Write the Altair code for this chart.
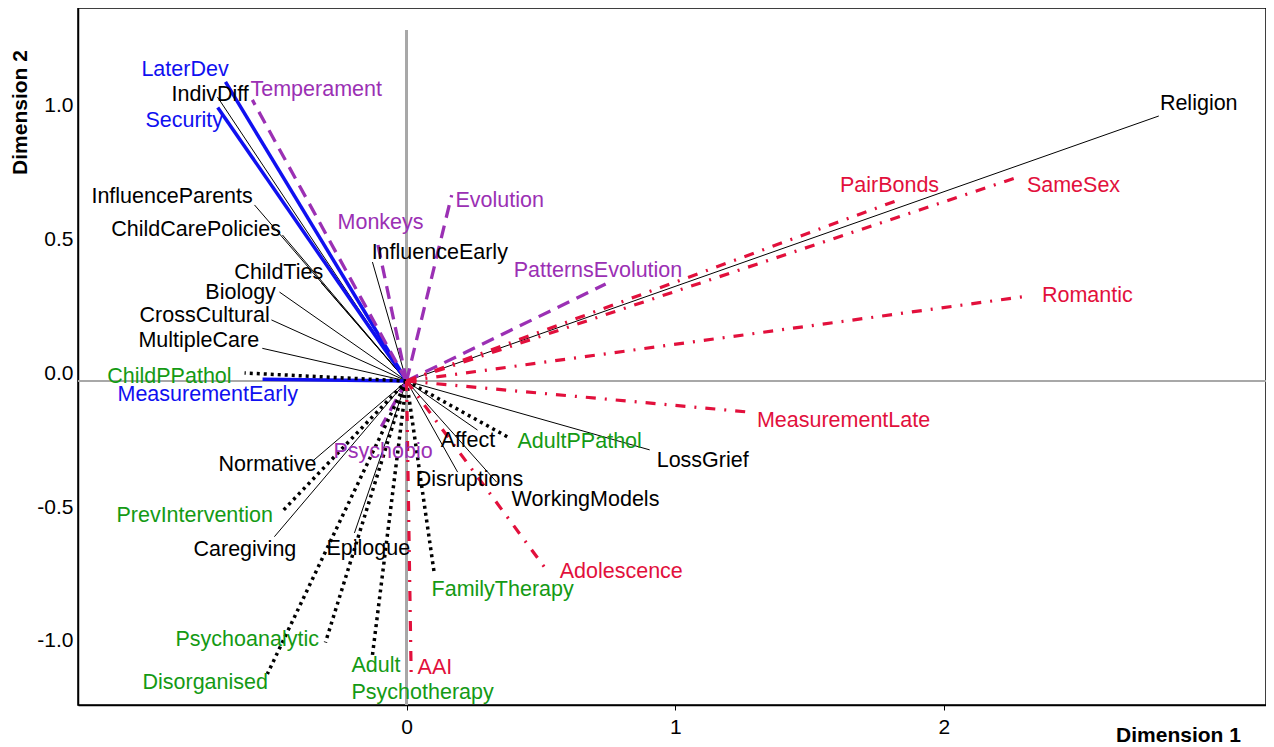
import altair as alt
import pandas as pd

# ---- data ----
names = [
    "LaterDev", "Security", "MeasurementEarly",
    "IndivDiff", "InfluenceParents", "ChildCarePolicies", "ChildTies", "Biology",
    "CrossCultural", "MultipleCare", "Normative", "Caregiving", "Epilogue",
    "Affect", "Disruptions", "WorkingModels", "LossGrief", "Religion", "InfluenceEarly",
    "Temperament", "Monkeys", "Evolution", "PatternsEvolution", "Psychobio",
    "ChildPPathol", "PrevIntervention", "Disorganised", "Psychoanalytic",
    "Adult\nPsychotherapy", "FamilyTherapy", "AdultPPathol",
    "PairBonds", "SameSex", "Romantic", "MeasurementLate", "Adolescence", "AAI",
]
dim1 = [
    -0.674, -0.703, -0.536,
    -0.704, -0.566, -0.462, -0.317, -0.473,
    -0.503, -0.537, -0.350, -0.492, -0.194,
    0.264, 0.190, 0.335, 0.905, 2.800, -0.127,
    -0.574, -0.108, 0.168, 0.741, -0.094,
    -0.603, -0.467, -0.518, -0.302,
    -0.128, 0.104, 0.384,
    1.829, 2.276, 2.320, 1.265, 0.526, 0.017,
]
dim2 = [
    1.116, 1.021, 0.007,
    1.060, 0.657, 0.545, 0.366, 0.332,
    0.228, 0.122, -0.299, -0.581, -0.567,
    -0.183, -0.340, -0.377, -0.257, 0.989, 0.444,
    1.049, 0.515, 0.694, 0.362, -0.170,
    0.030, -0.491, -1.093, -0.976,
    -1.031, -0.724, -0.213,
    0.675, 0.761, 0.318, -0.115, -0.712, -1.090,
]
groups = (
    ["Measurement"] * 3
    + ["General"] * 16
    + ["Biological"] * 5
    + ["Clinical"] * 7
    + ["LaterLife"] * 6
)
# where each label sits (left edge, vertical middle of first line), in data units
label_dim1 = [
    -0.987, -0.972, -1.076,
    -0.875, -1.173, -1.099, -0.641, -0.749,
    -0.994, -0.998, -0.700, -0.793, -0.298,
    0.127, 0.034, 0.391, 0.931, 2.804, -0.130,
    -0.581, -0.257, 0.182, 0.399, -0.272,
    -1.114, -1.080, -0.983, -0.860,
    -0.205, 0.093, 0.413,
    1.613, 2.309, 2.365, 1.304, 0.570, 0.041,
]
label_dim2 = [
    1.160, 0.970, -0.052,
    1.067, 0.687, 0.563, 0.403, 0.328,
    0.243, 0.149, -0.313, -0.631, -0.627,
    -0.224, -0.369, -0.444, -0.299, 1.034, 0.478,
    1.086, 0.590, 0.672, 0.410, -0.265,
    0.015, -0.504, -1.127, -0.966,
    -1.063, -0.780, -0.228,
    0.728, 0.728, 0.317, -0.149, -0.713, -1.071,
]

x_domain = [-1.223, 3.199]
y_domain = [-1.209, 1.392]
ref_top = 1.31

df = pd.DataFrame({
    "name": names, "d1": dim1, "d2": dim2, "group": groups,
    "lx": label_dim1, "ly": label_dim2,
})
df["o1"] = 0.0
df["o2"] = 0.0

FONT = "Liberation Sans"
BLUE = "#1010F0"
PURPLE = "#9B30B4"
GREEN = "#149A14"
RED = "#E2103C"

xs = alt.Scale(domain=x_domain, nice=False, zero=False)
ys = alt.Scale(domain=y_domain, nice=False, zero=False)

x_axis = alt.Axis(
    values=[0, 1, 2], format="d", tickSize=5, labelPadding=6,
    title="Dimension 1", titleX=1100, titleY=30,
    titleAlign="center", titleBaseline="middle",
)
y_axis = alt.Axis(
    values=[-1, -0.5, 0, 0.5, 1],
    labelExpr="replace(format(datum.value, '.1f'), '\u2212', '-')",
    ticks=False, tickSize=0, labelPadding=5, labelOffset=-8,
    title="Dimension 2", titleX=-58, titleY=104, titleAngle=270,
    titleAlign="center", titleBaseline="middle",
)

base = alt.Chart(df)

hline = base.mark_rule(color="#A8A8A8", strokeWidth=1.5).encode(
    y=alt.YDatum(0, scale=ys, axis=y_axis)
)
vline = base.mark_rule(color="#A8A8A8", strokeWidth=1.5).encode(
    x=alt.XDatum(0, scale=xs, axis=x_axis),
    y=alt.YDatum(ref_top, scale=ys, axis=y_axis),
    y2=alt.Y2Datum(y_domain[0]),
)


def vectors(group, **style):
    return base.transform_filter(alt.datum.group == group).mark_rule(**style).encode(
        x=alt.X("o1:Q", scale=xs, axis=x_axis),
        y=alt.Y("o2:Q", scale=ys, axis=y_axis),
        x2="d1:Q",
        y2="d2:Q",
    )


thin = vectors("General", color="black", strokeWidth=1)
blue = vectors("Measurement", color=BLUE, strokeWidth=3.5)
dashed = vectors("Biological", color=PURPLE, strokeWidth=3.3, strokeDash=[13, 8])
dotted = vectors("Clinical", color="black", strokeWidth=3.5, strokeDash=[3, 4])
dashdot = vectors("LaterLife", color=RED, strokeWidth=3.2, strokeDash=[10, 9, 2, 9])

labels = base.mark_text(
    align="left", baseline="middle", font=FONT, fontSize=21.5,
    lineBreak="\n", lineHeight=27,
).encode(
    x=alt.X("lx:Q", scale=xs, axis=x_axis),
    y=alt.Y("ly:Q", scale=ys, axis=y_axis),
    text="name:N",
    color=alt.Color(
        "group:N",
        scale=alt.Scale(
            domain=["Measurement", "General", "Biological", "Clinical", "LaterLife"],
            range=[BLUE, "black", PURPLE, GREEN, RED],
        ),
        legend=None,
    ),
)

chart = alt.layer(
    hline, vline, thin, blue, dashed, dotted, dashdot, labels
).properties(
    width=1188, height=697,
    autosize=alt.AutoSizeParams(type="none"),
    padding={"left": 70, "top": 0, "right": 0, "bottom": 40},
).configure_view(
    stroke="black", strokeWidth=1.5
).configure_axis(
    domainColor="black", domainWidth=1.5, grid=False,
    labelFont=FONT, labelFontSize=21, labelColor="black",
    titleFont=FONT, titleFontSize=21, titleFontWeight="bold", titleColor="black",
    tickColor="black",
)

chart.save("out.html", embed_options={"renderer": "svg", "actions": False})
